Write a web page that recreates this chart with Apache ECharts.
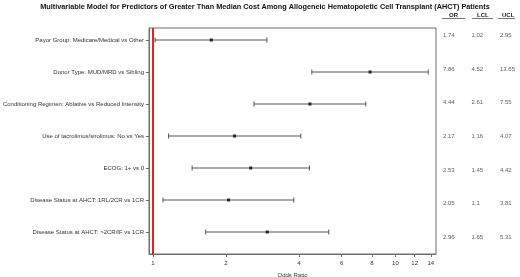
<!DOCTYPE html>
<html>
<head>
<meta charset="utf-8">
<script src="https://cdn.jsdelivr.net/npm/echarts@6/dist/echarts.min.js"></script>
<style>
html, body { margin:0; padding:0; background:#fff; }
#main { width:520px; height:277px; }
</style>
</head>
<body>
<div id="main"></div>
<script>
// rows, top to bottom
var rowLabels = [
    'Payor Group: Medicare/Medical vs Other',
    'Donor Type: MUD/MRD vs Sibling',
    'Conditioning Regimen: Ablative vs Reduced Intensity',
    'Use of tacrolimus/sirolimus: No vs Yes',
    'ECOG: 1+ vs 0',
    'Disease Status at AHCT: 1RL/2CR vs 1CR',
    'Disease Status at AHCT: >2CR/IF vs 1CR'
];
var orVals  = [1.74, 7.86, 4.44, 2.17, 2.53, 2.05, 2.96];
var lclVals = [1.02, 4.52, 2.61, 1.16, 1.45, 1.1, 1.65];
var uclVals = [2.95, 13.65, 7.55, 4.07, 4.42, 3.81, 5.31];
var orText  = ['1.74', '7.86', '4.44', '2.17', '2.53', '2.05', '2.96'];
var lclText = ['1.02', '4.52', '2.61', '1.16', '1.45', '1.1', '1.65'];
var uclText = ['2.95', '13.65', '7.55', '4.07', '4.42', '3.81', '5.31'];
var xTicks  = [1, 2, 4, 6, 8, 10, 12, 14];
var colHeaders = ['OR', 'LCL', 'UCL'];

var fontFam = '"Liberation Sans", Arial, sans-serif';
var rowIdx = rowLabels.map(function(l, i){ return i; });

var ciData = [], orData = [], tableData = [];
for (var i = 0; i < rowLabels.length; i++) {
    ciData.push([lclVals[i], uclVals[i], i]);
    orData.push([orVals[i], i]);
    tableData.push({value:[0, i], label:{formatter:orText[i]}});
    tableData.push({value:[1, i], label:{formatter:lclText[i]}});
    tableData.push({value:[2, i], label:{formatter:uclText[i]}});
}

var chart = echarts.init(document.getElementById('main'));

var option = {
    animation:false,
    backgroundColor:'#fff',
    title:{
        text:'Multivariable Model for Predictors of Greater Than Median Cost Among Allogeneic Hematopoietic Cell Transplant (AHCT) Patients',
        left:265, textAlign:'center', top:3, padding:0,
        textStyle:{fontFamily:fontFam, fontSize:7.3, fontWeight:'bold', color:'#111'}
    },
    grid:[
        {left:149, top:28, width:287, height:226, show:true, borderColor:'#6e6e6e', borderWidth:1,
            outerBoundsMode:'none', containLabel:false},
        {left:443, top:28, width:85.5, height:226, show:false, outerBoundsMode:'none', containLabel:false}
    ],
    xAxis:[
        {
            gridIndex:0, type:'log', logBase:10, min:0.963, max:14.7,
            name:'Odds Ratio', nameLocation:'middle', nameGap:18,
            nameTextStyle:{fontFamily:fontFam, fontSize:6, color:'#333'},
            axisLine:{show:true, onZero:false, lineStyle:{color:'#6e6e6e'}},
            axisTick:{show:true, length:3, customValues:xTicks, lineStyle:{color:'#6e6e6e'}},
            axisLabel:{fontFamily:fontFam, fontSize:6, color:'#333', margin:6, customValues:xTicks},
            splitLine:{show:false}
        },
        {gridIndex:1, type:'value', min:0, max:3, show:false}
    ],
    yAxis:[
        {
            gridIndex:0, type:'value', inverse:true, min:-0.375, max:6.6875,
            axisLine:{show:true, onZero:false, lineStyle:{color:'#6e6e6e'}},
            axisTick:{show:true, length:3, customValues:rowIdx, lineStyle:{color:'#6e6e6e'}},
            axisLabel:{fontFamily:fontFam, fontSize:6, color:'#333', margin:5, customValues:rowIdx,
                formatter:function(v){ return rowLabels[Math.round(v)] || ''; }},
            splitLine:{show:false}
        },
        // the side table rows sit on a slightly wider spacing than the plot rows
        {gridIndex:1, type:'value', inverse:true, min:-0.23, max:6.506, show:false}
    ],
    series:[
        {
            type:'custom', xAxisIndex:0, yAxisIndex:0, data:ciData,
            renderItem:function(params, api){
                var lo = api.coord([api.value(0), api.value(2)]);
                var hi = api.coord([api.value(1), api.value(2)]);
                var h = 2.5;
                var st = {stroke:'#555', lineWidth:1};
                return {type:'group', children:[
                    {type:'line', shape:{x1:lo[0], y1:lo[1], x2:hi[0], y2:hi[1]}, style:st},
                    {type:'line', shape:{x1:lo[0], y1:lo[1]-h, x2:lo[0], y2:lo[1]+h}, style:st},
                    {type:'line', shape:{x1:hi[0], y1:hi[1]-h, x2:hi[0], y2:hi[1]+h}, style:st}
                ]};
            },
            markLine:{
                silent:true, symbol:['none', 'none'], label:{show:false},
                lineStyle:{color:'#e3241b', width:2, type:'solid'},
                data:[{xAxis:1}]
            }
        },
        {
            type:'scatter', xAxisIndex:0, yAxisIndex:0, data:orData,
            symbol:'rect', symbolSize:3, itemStyle:{color:'#000'}
        },
        {
            type:'scatter', xAxisIndex:1, yAxisIndex:1, data:tableData,
            symbolSize:0,
            label:{show:true, position:'right', distance:0, fontFamily:fontFam, fontSize:6, color:'#333'}
        }
    ],
    graphic:[
        {type:'text', left:449, top:12, style:{text:colHeaders[0], font:'bold 6px ' + fontFam, fill:'#222'}},
        {type:'text', left:477, top:12, style:{text:colHeaders[1], font:'bold 6px ' + fontFam, fill:'#222'}},
        {type:'text', left:502, top:12, style:{text:colHeaders[2], font:'bold 6px ' + fontFam, fill:'#222'}},
        {type:'line', shape:{x1:442, y1:18.5, x2:465, y2:18.5}, style:{stroke:'#777', lineWidth:1}},
        {type:'line', shape:{x1:472, y1:18.5, x2:493, y2:18.5}, style:{stroke:'#777', lineWidth:1}},
        {type:'line', shape:{x1:498, y1:18.5, x2:515, y2:18.5}, style:{stroke:'#777', lineWidth:1}}
    ]
};

chart.setOption(option);
</script>
</body>
</html>
